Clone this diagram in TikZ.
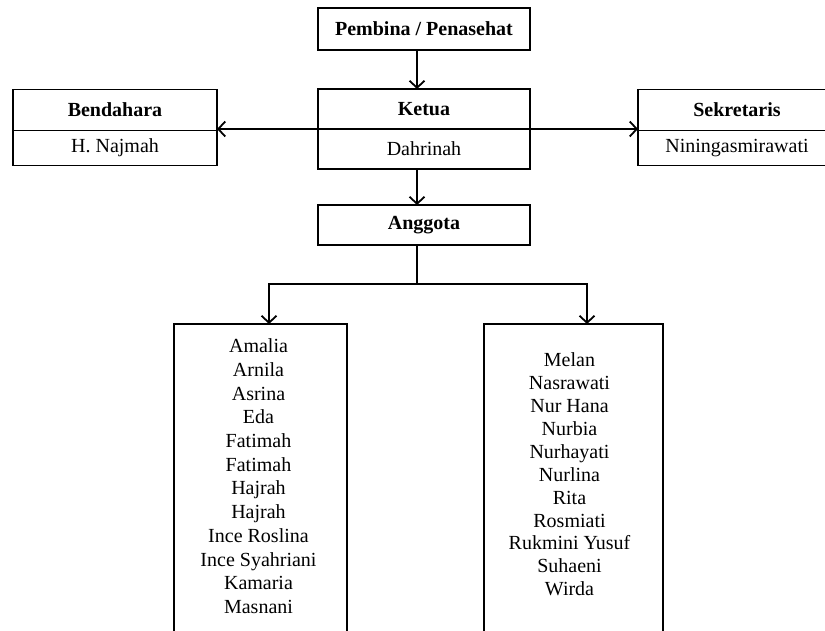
\documentclass[tikz,border=0pt]{standalone}
\usepackage{fontspec}
\setmainfont{Liberation Serif}
\usetikzlibrary{arrows.meta,positioning}

\tikzset{
    kotak/.style={draw, line width=0.8pt, inner sep=0pt, outer sep=0pt, font=\fontsize{10}{12}\selectfont},
    judul/.style={kotak, font=\fontsize{10}{12}\selectfont\bfseries},
    daftar/.style={inner sep=0pt, align=center}
}

\begin{document}
\begin{tikzpicture}[x=0.5pt,y=-0.5pt,>={Straight Barb[length=3.5pt,width=7.5pt]}, line width=0.9pt]
\useasboundingbox (0,0) rectangle (825,631);
\clip (0,0) rectangle (825,631);

\node[judul, minimum width=106pt, minimum height=21pt] (pembina) at (424,29) {Pembina / Penasehat};

% ketua
\node[judul, minimum width=106pt, minimum height=20pt] (ketua) at (424,109) {Ketua};
\node[kotak, minimum width=106pt, minimum height=20pt, below=0pt of ketua] (dahrinah) {Dahrinah};

% bendahara, sekretaris
\node[judul, minimum width=102pt, minimum height=20.5pt] (bendahara) at (115,110) {Bendahara};
\node[kotak, minimum width=102pt, minimum height=17.5pt, below=0pt of bendahara] (najmah) {H. Najmah};
\node[judul, minimum width=99pt, minimum height=20.5pt] (sekretaris) at (737,110) {Sekretaris};
\node[kotak, minimum width=99pt, minimum height=17.5pt, below=0pt of sekretaris] (nining) {Niningasmirawati};

\node[judul, minimum width=106pt, minimum height=20pt, below=18pt of dahrinah] (anggota) {Anggota};

% daftar anggota
\node[kotak, anchor=north, minimum width=86.5pt, minimum height=180pt] (kiri) at (260.5,324) {};
\node[kotak, anchor=north, minimum width=89.5pt, minimum height=180pt] (kanan) at (573.5,324) {};
\node[daftar, font=\fontsize{10}{11.85}\selectfont, below=7pt of kiri.north, xshift=-1pt] (daftarkiri)
    {Amalia\\Arnila\\Asrina\\Eda\\Fatimah\\Fatimah\\Hajrah\\Hajrah\\Ince Roslina\\Ince Syahriani\\Kamaria\\Masnani};
\node[daftar, font=\fontsize{10}{11.45}\selectfont, below=14pt of kanan.north, xshift=-2pt] (daftarkanan)
    {Melan\\Nasrawati\\Nur Hana\\Nurbia\\Nurhayati\\Nurlina\\Rita\\Rosmiati\\Rukmini Yusuf\\Suhaeni\\Wirda};

\draw[->] ([xshift=-3.5pt]pembina.south) -- ([xshift=-3.5pt]ketua.north);
\draw[->] (ketua.south west) -- (ketua.south west -| bendahara.east);
\draw[->] (ketua.south east) -- (ketua.south east -| sekretaris.west);
\draw[->] ([xshift=-3.5pt]dahrinah.south) -- ([xshift=-3.5pt]anggota.north);

\coordinate (cabang) at (417,284);
\draw (anggota.south -| cabang) -- (cabang);
\draw[->] (cabang) -| ([xshift=4.25pt]kiri.north);
\draw[->] (cabang) -| ([xshift=6.75pt]kanan.north);
\end{tikzpicture}
\end{document}
